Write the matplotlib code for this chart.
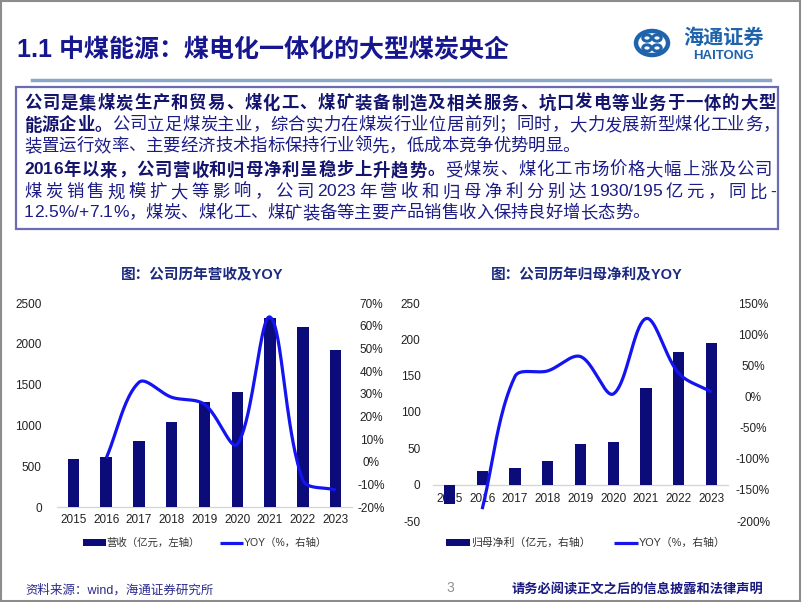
import numpy as np
import matplotlib
matplotlib.use("Agg")
import matplotlib.pyplot as plt
from matplotlib.patches import Rectangle, Circle
from matplotlib.lines import Line2D
from matplotlib.ticker import FuncFormatter, MultipleLocator

plt.rcParams['font.family'] = ['Liberation Sans', 'Noto Sans CJK SC']
plt.rcParams['axes.unicode_minus'] = False

# ---- data ----
years = ['2015', '2016', '2017', '2018', '2019', '2020', '2021', '2022', '2023']
revenue = [590, 607, 807, 1037, 1287, 1406, 2316, 2205, 1930]          # 亿元
revenue_yoy = [None, 1.5, 35.0, 28.4, 25.3, 7.7, 63.8, -8.1, -12.5]      # %
profit = [-27, 19, 23, 33, 56, 58.6, 133, 182, 195]                     # 亿元
profit_yoy = [None, -181, 32, 41, 64, 4, 125, 37, 7.1]                  # %

W, H = 802, 602
NAVY = '#0b0b7a'
BLUE = '#1414f0'
TXT = '#1c1c86'

fig = plt.figure(figsize=(W / 100, H / 100), dpi=100)
renderer = fig.canvas.get_renderer()


def fx(px):
    return px / W


def fy(py):
    return 1 - py / H


def smooth(ax, xs, ys, n=40):
    # Excel-like smoothed line: cubic Bezier in screen space,
    # control arms scaled by neighbouring segment lengths
    pts = ax.transData.transform(np.column_stack([xs, ys]).astype(float))
    m = len(pts)
    d = np.linalg.norm(np.diff(pts, axis=0), axis=1)
    t = np.linspace(0, 1, n)[:, None]
    out = []
    for i in range(m - 1):
        p1, p2 = pts[i], pts[i + 1]
        if i > 0:
            c1 = p1 + (p2 - pts[i - 1]) * d[i] / (3 * (d[i - 1] + d[i]))
        else:
            c1 = p1 + (p2 - p1) / 3
        if i + 2 < m:
            c2 = p2 - (pts[i + 2] - p1) * d[i] / (3 * (d[i] + d[i + 1]))
        else:
            c2 = p2 - (p2 - p1) / 3
        seg = ((1 - t) ** 3) * p1 + 3 * ((1 - t) ** 2) * t * c1 + 3 * (1 - t) * t ** 2 * c2 + t ** 3 * p2
        out.append(seg)
    return ax.transData.inverted().transform(np.vstack(out))


# ---- slide frame, header ----
fig.patches.append(Rectangle((0.001, 0.001), 0.997, 0.997, transform=fig.transFigure,
                             fill=False, edgecolor='#8c8c8c', lw=1.5))
fig.text(fx(17), fy(50), '1.1 中煤能源：煤电化一体化的大型煤炭央企', fontsize=18,
         fontweight='bold', color='#16168f', va='center', ha='left')
fig.add_artist(Line2D([fx(32), fx(770)], [fy(80), fy(80)], color='#8ea6c6', lw=2.5))

# logo
LOGO = '#1f63ad'
cx, cy, r = 652, 43, 16
fig.patches.append(Circle((fx(cx), fy(cy)), r / W, transform=fig.transFigure,
                          fill=False, edgecolor=LOGO, lw=3.2))
for dx, dy in [(-5, -5), (5, -5), (-5, 5), (5, 5)]:
    fig.patches.append(Circle((fx(cx + dx), fy(cy + dy)), 4.2 / W, transform=fig.transFigure,
                              fill=False, edgecolor=LOGO, lw=2.2))
fig.text(fx(724), fy(38), '海通证券', fontsize=14.5, fontweight='bold', color=LOGO,
         ha='center', va='center')
fig.text(fx(723), fy(56), 'HAITONG', fontsize=9.5, fontweight='bold', color=LOGO,
         ha='center', va='center')

# ---- text box ----
fig.patches.append(Rectangle((fx(16), fy(229)), fx(778) - fx(16), fy(87) - fy(229),
                             transform=fig.transFigure, fill=False,
                             edgecolor='#6c6cb4', lw=1.6))


def draw_line(segments, x0, y, width=None, size=12.5):
    items = []
    for s, bold in segments:
        for ch in s:
            t = fig.text(0, 0, ch, fontsize=size, fontweight='bold' if bold else 'normal',
                         color='#14146e' if bold else TXT, va='center', ha='left')
            items.append(t)
    ws = [t.get_window_extent(renderer).width for t in items]
    chars = [t.get_text() for t in items]
    slots = [0 if (chars[i].isascii() and chars[i + 1].isascii()) else 1
             for i in range(len(chars) - 1)]
    gap = 0
    if width is not None and sum(slots):
        gap = (width - sum(ws)) / sum(slots)
    x = x0
    for i, (t, w) in enumerate(zip(items, ws)):
        t.set_position((fx(x), fy(y)))
        x += w + (gap * slots[i] if i < len(slots) else 0)


draw_line([('公司是集煤炭生产和贸易、煤化工、煤矿装备制造及相关服务、坑口发电等业务于一体的大型', True)],
          24, 103, 752)
draw_line([('能源企业。', True),
           ('公司立足煤炭主业，综合实力在煤炭行业位居前列；同时，大力发展新型煤化工业务，', False)],
          24, 125, 756)
draw_line([('装置运行效率、主要经济技术指标保持行业领先，低成本竞争优势明显。', False)], 24, 146)
draw_line([('2016年以来，公司营收和归母净利呈稳步上升趋势。', True),
           ('受煤炭、煤化工市场价格大幅上涨及公司', False)], 24, 170, 748)
draw_line([('煤炭销售规模扩大等影响，公司2023年营收和归母净利分别达1930/195亿元，同比-', False)],
          24, 192, 752)
draw_line([('12.5%/+7.1%，煤炭、煤化工、煤矿装备等主要产品销售收入保持良好增长态势。', False)], 24, 213)

# ---- charts ----
x = np.arange(len(years))


def style_axes(ax, ax2):
    for a in (ax, ax2):
        for s in ('top', 'left', 'right'):
            a.spines[s].set_visible(False)
        a.tick_params(length=0, labelsize=8.5, colors='#222222')
        a.set_xlim(-0.5, len(years) - 0.5)
    ax2.spines['bottom'].set_visible(False)
    ax.spines['bottom'].set_color('#d4d4d4')
    ax.spines['bottom'].set_linewidth(0.9)
    ax.set_xticks(x)
    ax.set_xticklabels(years)
    ax2.yaxis.set_major_formatter(FuncFormatter(lambda v, p: '%d%%' % v))


def yoy_line(ax2, vals):
    xs = [i for i, v in enumerate(vals) if v is not None]
    ys = [v for v in vals if v is not None]
    c = smooth(ax2, xs, ys)
    return ax2.plot(c[:, 0], c[:, 1], color=BLUE, lw=2.3, solid_capstyle='butt')[0]


# left chart: revenue
ax1 = fig.add_axes([fx(57), fy(507), fx(352) - fx(57), fy(303) - fy(507)])
b1 = ax1.bar(x, revenue, width=0.35, color=NAVY, zorder=3)
ax1.set_ylim(0, 2500)
ax1.yaxis.set_major_locator(MultipleLocator(500))
ax1r = ax1.twinx()
ax1r.set_ylim(-20, 70)
ax1r.yaxis.set_major_locator(MultipleLocator(10))
style_axes(ax1, ax1r)
l1 = yoy_line(ax1r, revenue_yoy)
ax1.tick_params(axis='y', pad=11)
ax1.tick_params(axis='x', pad=5)
ax1r.tick_params(axis='y', pad=14)
for lab in ax1r.get_yticklabels():
    lab.set_horizontalalignment('center')
fig.text(fx(202), fy(275), '图：公司历年营收及YOY', fontsize=10.5, fontweight='bold',
         color='#1c2a80', ha='center', va='center')
ax1.legend([b1, l1], ['营收（亿元，左轴）', 'YOY（%，右轴）'], loc='center',
           bbox_to_anchor=(fx(205), fy(543)), bbox_transform=fig.transFigure,
           ncol=2, frameon=False, fontsize=7.5, handlelength=2.2, handleheight=0.6,
           handletextpad=0.05, columnspacing=2.0, labelcolor='#333333')

# right chart: net profit
ax2 = fig.add_axes([fx(433), fy(521), fx(728) - fx(433), fy(303) - fy(521)])
b2 = ax2.bar(x, profit, width=0.34, color=NAVY, zorder=3)
ax2.set_ylim(-50, 250)
ax2.yaxis.set_major_locator(MultipleLocator(50))
ax2.spines['bottom'].set_position(('data', 0))
ax2r = ax2.twinx()
ax2r.set_ylim(-200, 150)
ax2r.yaxis.set_major_locator(MultipleLocator(50))
style_axes(ax2, ax2r)
l2 = yoy_line(ax2r, profit_yoy)
ax2.tick_params(axis='y', pad=9)
ax2.tick_params(axis='x', pad=6)
ax2r.tick_params(axis='y', pad=18)
for lab in ax2r.get_yticklabels():
    lab.set_horizontalalignment('center')
fig.text(fx(587), fy(275), '图：公司历年归母净利及YOY', fontsize=10.5, fontweight='bold',
         color='#1c2a80', ha='center', va='center')
ax2.legend([b2, l2], ['归母净利（亿元，右轴）', 'YOY（%，右轴）'], loc='center',
           bbox_to_anchor=(fx(586), fy(543)), bbox_transform=fig.transFigure,
           ncol=2, frameon=False, fontsize=7.8, handlelength=2.2, handleheight=0.6,
           handletextpad=0.05, columnspacing=2.2, labelcolor='#333333')

# ---- footer ----
fig.text(fx(25), fy(590), '资料来源：wind，海通证券研究所', fontsize=9, color='#2a2a8c',
         ha='left', va='center')
fig.text(fx(450), fy(588), '3', fontsize=10, color='#909090', ha='center', va='center')
fig.text(fx(763), fy(590), '请务必阅读正文之后的信息披露和法律声明', fontsize=9.5,
         fontweight='bold', color='#1a1a80', ha='right', va='center')

fig.savefig('out.png', dpi=100)
